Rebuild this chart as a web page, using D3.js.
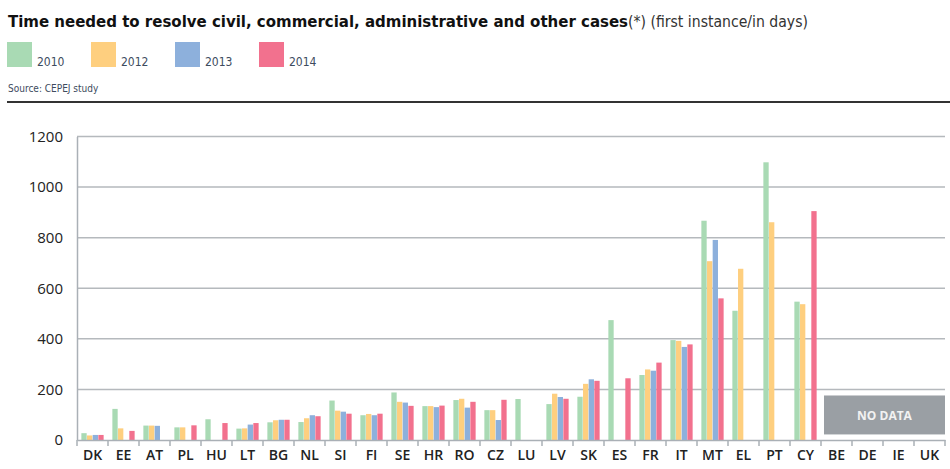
<!DOCTYPE html>
<html><head><meta charset="utf-8">
<script src="https://cdn.jsdelivr.net/npm/d3@7"></script>
<style>body{margin:0;background:#fff}svg{display:block}</style>
</head><body>
<svg id="c" width="950" height="469"></svg>
<script>
const countries = ["DK","EE","AT","PL","HU","LT","BG","NL","SI","FI","SE","HR","RO","CZ","LU","LV","SK","ES","FR","IT","MT","EL","PT","CY","BE","DE","IE","UK"];
const years = ["2010","2012","2013","2014"];
const v2010 = [27,123,57,50,82,45,70,71,156,98,188,134,158,118,162,142,171,474,257,395,867,511,1098,547,null,null,null,null];
const v2012 = [18,46,57,50,null,46,78,86,116,103,151,134,163,118,null,183,222,null,279,392,707,677,861,537,null,null,null,null];
const v2013 = [20,null,56,null,null,61,80,98,112,98,148,130,128,79,null,170,240,null,274,368,791,null,null,null,null,null,null,null];
const v2014 = [20,36,null,58,67,67,80,94,104,104,135,136,151,159,null,163,234,244,306,378,560,null,null,905,null,null,null,null];
const yTicks = [0,200,400,600,800,1000,1200];
const noData = ["BE","DE","IE","UK"];
const colors = ["#a9dab4","#fecf7f","#8db0dc","#f2718e"];

const series = [v2010,v2012,v2013,v2014];
const svg = d3.select("#c");
const x0 = d3.scaleBand().domain(countries).range([77,945]).paddingInner(0.26).paddingOuter(0.13);
const x1 = d3.scaleBand().domain(years).range([0,x0.bandwidth()]).padding(0.06);
const y = d3.scaleLinear().domain([0,1200]).range([440,136.5]);
const narrow = "'Liberation Sans Narrow','DejaVu Sans Condensed',sans-serif";

// title
const t = svg.append("text").attr("x",8).attr("y",27).attr("font-family",narrow).attr("fill","#111");
t.append("tspan").attr("font-weight","bold").attr("font-size",16).text("Time needed to resolve civil, commercial, administrative and other cases");
t.append("tspan").attr("font-size",15).attr("fill","#333").text("(*) (first instance/in days)");
t.attr("textLength",800).attr("lengthAdjust","spacingAndGlyphs");

// legend
const lg = svg.append("g");
years.forEach((yr,i)=>{
  const lx = 7 + i*84;
  lg.append("rect").attr("x",lx).attr("y",42).attr("width",25).attr("height",25).attr("fill",colors[i]);
  lg.append("text").attr("x",lx+30).attr("y",66).attr("font-family",narrow).attr("font-size",12).attr("fill","#3d4b5e").text(yr);
});
svg.append("text").attr("x",8).attr("y",92).attr("font-family",narrow).attr("font-size",10).attr("fill","#3d4b5e").text("Source: CEPEJ study");
svg.append("line").attr("x1",7).attr("x2",950).attr("y1",102).attr("y2",102).attr("stroke","#333").attr("stroke-width",2);

// grid
const g = svg.append("g");
g.selectAll("line.grid").data(yTicks.filter(d=>d>0)).join("line")
  .attr("x1",77).attr("x2",945).attr("y1",d=>y(d)).attr("y2",d=>y(d))
  .attr("stroke","#b5b9bd").attr("stroke-width",1.5);

// y axis
const ya = svg.append("g").attr("transform","translate(77,0)").call(d3.axisLeft(y).tickValues(yTicks).tickFormat(d3.format("d")).tickSize(0).tickPadding(14));
ya.select(".domain").attr("stroke","#aab0b6").attr("stroke-width",1.5);
ya.selectAll("text").attr("font-family","'Open Sans',sans-serif").attr("font-size",15).attr("fill","#222");
ya.selectAll(".tick line").remove();

// bars
const bars = svg.append("g");
countries.forEach((c,ci)=>{
  series.forEach((s,si)=>{
    const v = s[ci];
    if(v==null) return;
    bars.append("rect").attr("x",x0(c)+x1(years[si])).attr("width",x1.bandwidth())
      .attr("y",y(v)).attr("height",y(0)-y(v)).attr("fill",colors[si]);
  });
});

// x axis
const xa = svg.append("g").attr("transform","translate(0,440)").call(d3.axisBottom(x0).tickSize(0).tickPadding(10));
xa.select(".domain").attr("stroke","#aab0b6").attr("stroke-width",1.5);
xa.selectAll("text").attr("font-family","'Open Sans',sans-serif").attr("font-size",14).attr("font-weight",600).attr("fill","#222");
// boundary ticks
svg.append("g").selectAll("line").data(countries.concat(["_end"])).join("line")
  .attr("x1",(d,i)=>77+i*x0.step()).attr("x2",(d,i)=>77+i*x0.step())
  .attr("y1",440).attr("y2",446).attr("stroke","#aab0b6").attr("stroke-width",1.5);

// no data box
const nx = x0(noData[0]) - x0.step()*x0.paddingInner()/2 + 3;
svg.append("rect").attr("x",nx).attr("y",y(176)).attr("width",945-nx).attr("height",y(22)-y(176)).attr("fill","#9a9fa4");
svg.append("text").attr("x",(nx+945)/2).attr("y",y(80)).attr("text-anchor","middle").attr("font-family","'Open Sans',sans-serif").attr("font-weight",700).attr("font-size",12).attr("fill","#f2f2f2").text("NO DATA");
</script>
</body></html>
